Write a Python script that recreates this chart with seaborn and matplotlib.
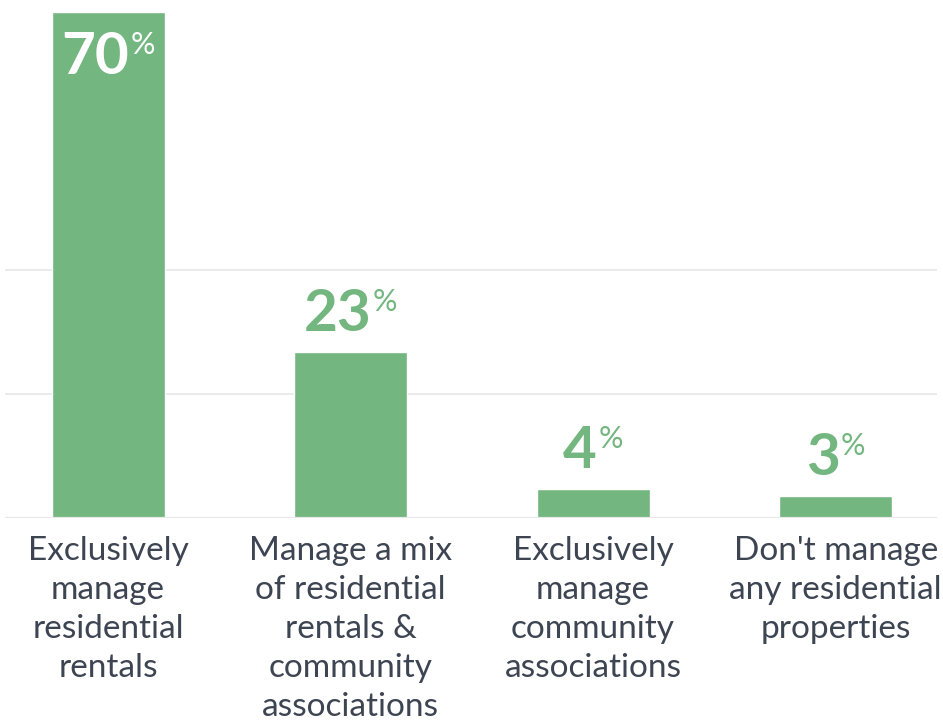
import matplotlib
matplotlib.use("Agg")
import matplotlib.pyplot as plt
import seaborn as sns
import pandas as pd
from matplotlib.offsetbox import TextArea, HPacker, AnnotationBbox

categories = [
    "Exclusively\nmanage\nresidential\nrentals",
    "Manage a mix\nof residential\nrentals &\ncommunity\nassociations",
    "Exclusively\nmanage\ncommunity\nassociations",
    "Don't manage\nany residential\nproperties",
]
shares = [70, 23, 4, 3]
label_inside = [True, False, False, False]

GREEN = "#73b67f"
INK = "#3d4452"
GRID = "#e8e8e8"

sns.set_theme(style="white")
plt.rcParams["font.family"] = ["Lato", "DejaVu Sans"]

df = pd.DataFrame({"category": categories, "share": shares})

fig = plt.figure(figsize=(9.43, 7.23), dpi=100)
ax = fig.add_axes([5 / 943, 205 / 723, 932 / 943, 506 / 723])

sns.barplot(data=df, x="category", y="share", color=GREEN, saturation=1,
            width=0.466, ax=ax, zorder=3)

ax.set_xlim(-0.425, 3.418)
ax.set_ylim(0, 70)
for gy in (17.15, 34.3):
    ax.axhline(gy, color=GRID, lw=1.3, zorder=1)
ax.axhline(0, color=GRID, lw=1.6, zorder=4)

for s in ax.spines.values():
    s.set_visible(False)
ax.set_yticks([])
ax.set_xlabel("")
ax.set_ylabel("")
ax.tick_params(axis="x", length=0, pad=13)
for lbl in ax.get_xticklabels():
    lbl.set_fontsize(24)
    lbl.set_color(INK)
    lbl.set_linespacing(1.37)
    lbl.set_ha("center")
    lbl.set_va("top")

for i, (v, inside) in enumerate(zip(shares, label_inside)):
    col = "white" if inside else GREEN
    num = TextArea(str(v), textprops=dict(fontsize=42, fontweight="bold", color=col))
    pct = TextArea("%", textprops=dict(fontsize=22, fontweight="normal", color=col))
    box = HPacker(children=[num, pct], align="top", pad=0, sep=1)
    if inside:
        ab = AnnotationBbox(box, (i, v), xybox=(0, -14), xycoords="data",
                            boxcoords="offset points", box_alignment=(0.5, 1),
                            frameon=False, pad=0, zorder=5)
    else:
        ab = AnnotationBbox(box, (i, v), xybox=(0, 8), xycoords="data",
                            boxcoords="offset points", box_alignment=(0.5, 0),
                            frameon=False, pad=0, zorder=5)
    ax.add_artist(ab)

fig.savefig("out.png", dpi=100, facecolor="white")
